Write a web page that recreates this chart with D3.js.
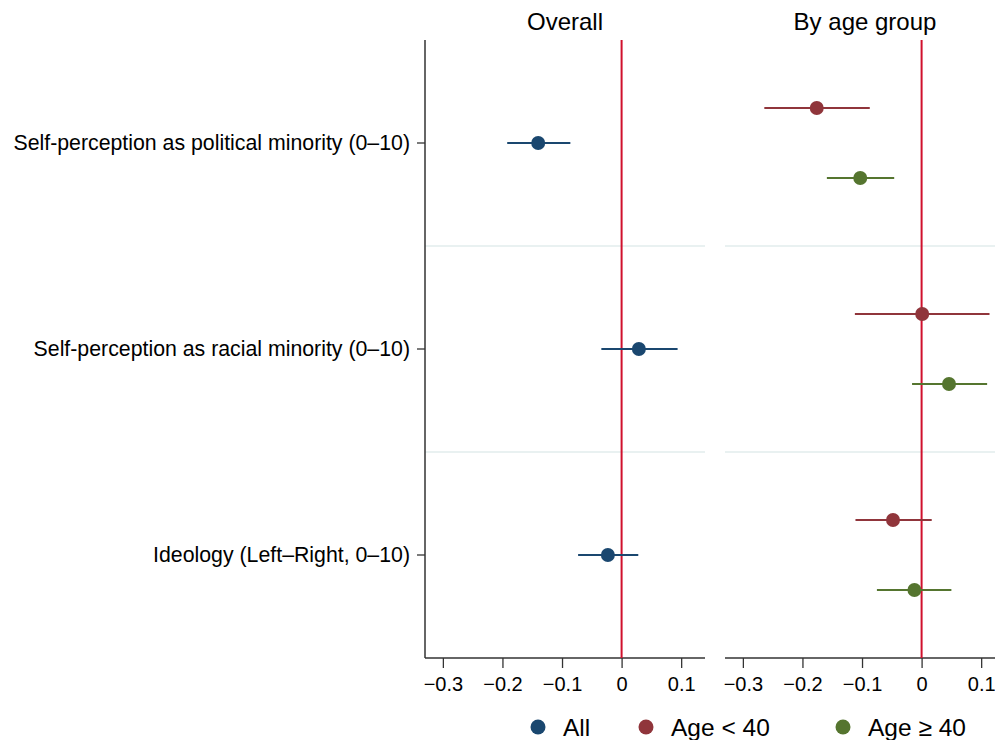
<!DOCTYPE html>
<html>
<head>
<meta charset="utf-8">
<script src="https://cdn.jsdelivr.net/npm/d3@7"></script>
<style>
  body { margin: 0; background: #fff; }
  text { font-family: "Liberation Sans", Arial, sans-serif; fill: #000; }
</style>
</head>
<body>
<div id="chart"></div>
<script>
// data
var categories = ["Self-perception as political minority (0\u201310)",
                  "Self-perception as racial minority (0\u201310)",
                  "Ideology (Left\u2013Right, 0\u201310)"];
var allEst = [-0.140, 0.029, -0.023];
var allLo  = [-0.192, -0.034, -0.073];
var allHi  = [-0.086, 0.094, 0.028];
var youngEst = [-0.176, 0.001, -0.048];
var youngLo  = [-0.264, -0.112, -0.111];
var youngHi  = [-0.087, 0.114, 0.017];
var oldEst = [-0.103, 0.046, -0.012];
var oldLo  = [-0.159, -0.016, -0.075];
var oldHi  = [-0.046, 0.110, 0.050];
var xTicks = [-0.3, -0.2, -0.1, 0, 0.1];
var groups = ["All", "Age < 40", "Age \u2265 40"];
var colors = ["#1a476f", "#90353b", "#55752f"];

var W = 995, H = 740;
var plotTop = 40, plotBottom = 658;

var svg = d3.select("#chart").append("svg")
    .attr("width", W).attr("height", H);

var y = d3.scaleBand().domain(d3.range(categories.length))
    .range([plotTop, plotBottom]).paddingInner(0).paddingOuter(0);

function panel(x0, x1, title, series, offsets, showY) {
  var x = d3.scaleLinear().domain([-0.33, 0.14]).range([x0, x1]);
  var g = svg.append("g");

  // light separators between categories
  g.selectAll(".sep").data(d3.range(1, categories.length)).enter()
    .append("line")
      .attr("x1", x0).attr("x2", x1)
      .attr("y1", function(i) { return y(i); })
      .attr("y2", function(i) { return y(i); })
      .attr("stroke", "#e2eded").attr("stroke-width", 1.5);

  // x axis
  var ax = g.append("g")
      .attr("transform", "translate(0," + plotBottom + ")")
      .call(d3.axisBottom(x).tickValues(xTicks).tickSize(10).tickPadding(9)
        .tickFormat(function(d) { return d === 0 ? "0" : d3.format(".1f")(d).replace("-", "\u2212"); }));
  ax.select(".domain").attr("stroke", "#333").attr("stroke-width", 1.5)
    .attr("d", "M" + x0 + ",0H" + x1);
  ax.selectAll(".tick line").attr("stroke", "#333").attr("stroke-width", 1.3);
  ax.selectAll(".tick text").style("font-size", "20px").attr("fill", "#000");

  if (showY) {
    var ay = g.append("g")
        .attr("transform", "translate(" + x0 + ",0)")
        .call(d3.axisLeft(y).tickSize(8).tickPadding(7)
          .tickFormat(function(i) { return categories[i]; }));
    ay.select(".domain").attr("stroke", "#333").attr("stroke-width", 1.5)
      .attr("d", "M0," + plotTop + "V" + plotBottom);
    ay.selectAll(".tick line").attr("stroke", "#333").attr("stroke-width", 1.3);
    ay.selectAll(".tick text").style("font-size", "21.3px").attr("fill", "#000");
  }

  // zero line
  g.append("line")
    .attr("x1", x(0)).attr("x2", x(0))
    .attr("y1", plotTop).attr("y2", plotBottom)
    .attr("stroke", "#d0102c").attr("stroke-width", 2);

  series.forEach(function(s, k) {
    var cy = function(i) { return y(i) + y.bandwidth() / 2 + offsets[k]; };
    g.selectAll(".ci" + k).data(s.est).enter().append("line")
      .attr("x1", function(d, i) { return x(s.lo[i]); })
      .attr("x2", function(d, i) { return x(s.hi[i]); })
      .attr("y1", function(d, i) { return cy(i); })
      .attr("y2", function(d, i) { return cy(i); })
      .attr("stroke", s.color).attr("stroke-width", 2.2);
    g.selectAll(".pt" + k).data(s.est).enter().append("circle")
      .attr("cx", function(d) { return x(d); })
      .attr("cy", function(d, i) { return cy(i); })
      .attr("r", 7)
      .attr("fill", s.color);
  });

  svg.append("text")
    .attr("x", (x0 + x1) / 2).attr("y", 30)
    .attr("text-anchor", "middle")
    .style("font-size", "24px")
    .text(title);
}

panel(425, 705, "Overall",
  [{est: allEst, lo: allLo, hi: allHi, color: colors[0]}], [0], true);
panel(725, 1005, "By age group",
  [{est: youngEst, lo: youngLo, hi: youngHi, color: colors[1]},
   {est: oldEst, lo: oldLo, hi: oldHi, color: colors[2]}], [-35, 35], false);

// legend
var legX = [538, 646, 843];
var leg = svg.append("g");
groups.forEach(function(name, k) {
  leg.append("circle").attr("cx", legX[k]).attr("cy", 727).attr("r", 7.5).attr("fill", colors[k]);
  leg.append("text").attr("x", legX[k] + 25).attr("y", 736)
    .style("font-size", "24.5px").text(name);
});
</script>
</body>
</html>
